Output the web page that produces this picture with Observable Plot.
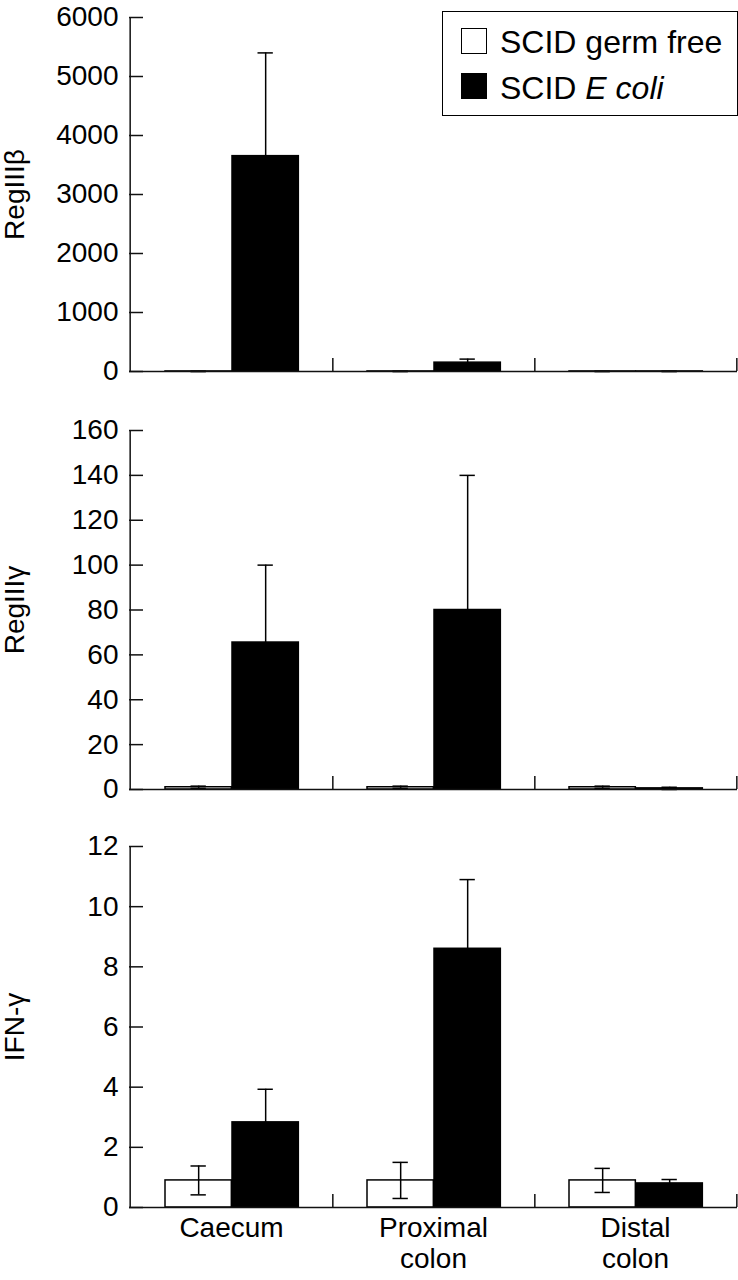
<!DOCTYPE html>
<html>
<head>
<meta charset="utf-8">
<script src="https://cdn.jsdelivr.net/npm/d3@7"></script>
<script src="https://cdn.jsdelivr.net/npm/@observablehq/plot@0.6"></script>
<style>
  body { margin: 0; background: #fff; }
  #chart { position: relative; width: 738px; height: 1280px; overflow: hidden; background: #fff; font-family: "Liberation Sans", Arial, sans-serif; }
  #chart svg { display: block; }
  .legend-box { position: absolute; left: 442px; top: 11px; width: 296px; height: 105px; border: 1.5px solid #000; box-sizing: border-box; background: #fff; }
  .legend-swatch { position: absolute; left: 461px; width: 26px; height: 26px; border: 1.5px solid #000; box-sizing: border-box; }
  .legend-text { position: absolute; left: 500px; font-size: 32px; line-height: 32px; white-space: nowrap; color: #000; }
</style>
</head>
<body>
<div id="chart"></div>
<script>
// ---- data ----
const categories = ["Caecum", "Proximal colon", "Distal colon"];
const xTickLabels = ["Caecum", "Proximal\ncolon", "Distal\ncolon"];
const groups = ["SCID germ free", "SCID E coli"];

const regBetaGermFree   = [1, 1, 1];
const regBetaGermFreeSD = [0.5, 0.5, 0.5];
const regBetaEcoli      = [3650, 150, 1];
const regBetaEcoliSD    = [1750, 60, 0.5];
const regBetaTicks      = [0, 1000, 2000, 3000, 4000, 5000, 6000];

const regGammaGermFree   = [1, 1, 1];
const regGammaGermFreeSD = [0.5, 0.5, 0.5];
const regGammaEcoli      = [65.5, 80, 0.5];
const regGammaEcoliSD    = [34.5, 60, 0.5];
const regGammaTicks      = [0, 20, 40, 60, 80, 100, 120, 140, 160];

const ifnGermFree   = [0.9, 0.9, 0.9];
const ifnGermFreeSD = [0.48, 0.6, 0.4];
const ifnEcoli      = [2.83, 8.6, 0.8];
const ifnEcoliSD    = [1.1, 2.3, 0.13];
const ifnTicks      = [0, 2, 4, 6, 8, 10, 12];

// ---- layout ----
const W = 738, ML = 129, MR = 1;
const band = (W - ML - MR) / categories.length;
const barW = 67, padL = 35, capW = 16;
const barLeft = {[groups[0]]: padL, [groups[1]]: padL + barW};
const font = "'Liberation Sans', Arial, sans-serif";

function panel({label, gf, gfSD, ec, ecSD, ticks, height, marginTop, marginBottom, showX}) {
  const rows = [];
  categories.forEach((c, i) => {
    rows.push({cat: c, group: groups[0], value: gf[i], sd: gfSD[i]});
    rows.push({cat: c, group: groups[1], value: ec[i], sd: ecSD[i]});
  });
  const plotH = height - marginTop - marginBottom;
  const marks = [];
  for (const g of groups) {
    const r = rows.filter(d => d.group === g);
    const left = barLeft[g];
    const center = left + barW / 2;
    marks.push(Plot.barY(r, {
      x: "cat", y: "value",
      fill: g === groups[0] ? "white" : "black",
      stroke: "black", strokeWidth: 1.5,
      insetLeft: left, insetRight: band - left - barW
    }));
    marks.push(Plot.ruleX(r, {
      x: "cat", y1: d => d.value - d.sd, y2: d => d.value + d.sd,
      dx: center - band / 2, stroke: "black", strokeWidth: 1.5
    }));
    for (const sign of [1, -1]) {
      marks.push(Plot.tickY(r, {
        x: "cat", y: d => d.value + sign * d.sd,
        insetLeft: center - capW / 2, insetRight: band - center - capW / 2,
        stroke: "black", strokeWidth: 1.5
      }));
    }
  }
  marks.push(Plot.ruleY([0], {stroke: "#111", strokeWidth: 1.5}));
  marks.push(Plot.ruleX([categories[0]], {x: d => d, dx: -band / 2, stroke: "#111", strokeWidth: 1.5}));
  marks.push(Plot.ruleX(categories, {x: d => d, dx: band / 2, insetTop: plotH - 13, stroke: "#111", strokeWidth: 1.5}));
  marks.push(Plot.tickY(ticks, {y: d => d, insetRight: W - ML - MR - 14, stroke: "#111", strokeWidth: 1.5}));
  marks.push(Plot.axisY({
    ticks, tickSize: 0, tickPadding: 11, tickFormat: d => String(d),
    label, labelAnchor: "center", labelOffset: 125, labelArrow: "none"
  }));
  if (showX) {
    marks.push(Plot.axisX({
      tickSize: 0, tickPadding: 8, lineHeight: 1.1,
      tickFormat: d => xTickLabels[categories.indexOf(d)], label: null
    }));
  }
  return Plot.plot({
    width: W, height, marginLeft: ML, marginRight: MR, marginTop, marginBottom,
    style: {fontFamily: font, fontSize: "28px", color: "black", background: "white", overflow: "visible"},
    x: {type: "band", domain: categories, padding: 0, axis: null},
    y: {domain: [ticks[0], ticks[ticks.length - 1]], axis: null},
    marks
  });
}

const chart = document.getElementById("chart");
chart.append(panel({label: "RegIIIβ", gf: regBetaGermFree, gfSD: regBetaGermFreeSD, ec: regBetaEcoli, ecSD: regBetaEcoliSD,
  ticks: regBetaTicks, height: 400, marginTop: 17, marginBottom: 29, showX: false}));
chart.append(panel({label: "RegIIIγ", gf: regGammaGermFree, gfSD: regGammaGermFreeSD, ec: regGammaEcoli, ecSD: regGammaEcoliSD,
  ticks: regGammaTicks, height: 420, marginTop: 30, marginBottom: 31, showX: false}));
chart.append(panel({label: "IFN-γ", gf: ifnGermFree, gfSD: ifnGermFreeSD, ec: ifnEcoli, ecSD: ifnEcoliSD,
  ticks: ifnTicks, height: 460, marginTop: 26, marginBottom: 73, showX: true}));

// legend
const box = document.createElement("div");
box.className = "legend-box";
chart.append(box);
[["white", 28, 26, "SCID germ free"], ["black", 73, 72, "SCID <i>E coli</i>"]].forEach(([fill, sTop, tTop, html]) => {
  const sw = document.createElement("div");
  sw.className = "legend-swatch";
  sw.style.top = sTop + "px";
  sw.style.background = fill;
  chart.append(sw);
  const t = document.createElement("div");
  t.className = "legend-text";
  t.style.top = tTop + "px";
  t.innerHTML = html;
  chart.append(t);
});
</script>
</body>
</html>
